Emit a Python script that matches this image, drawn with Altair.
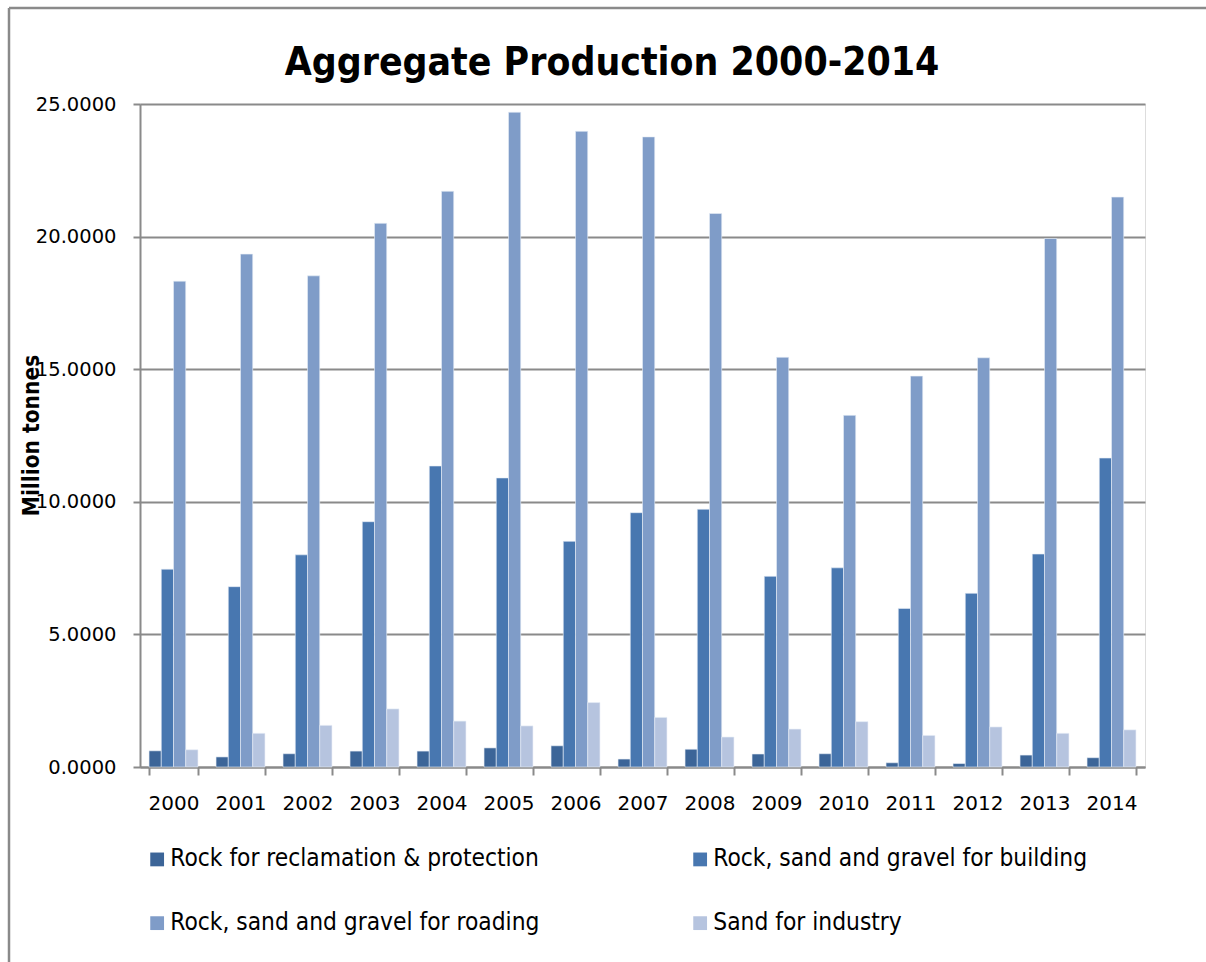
import altair as alt
import pandas as pd

years = [str(y) for y in range(2000, 2015)]
series = [
    "Rock for reclamation & protection",
    "Rock, sand and gravel for building",
    "Rock, sand and gravel for roading",
    "Sand for industry",
]
reclamation = [0.61, 0.38, 0.50, 0.60, 0.60, 0.72, 0.80, 0.30, 0.67, 0.49, 0.50, 0.16, 0.13, 0.45, 0.35]
building = [7.46, 6.80, 8.00, 9.25, 11.35, 10.90, 8.51, 9.59, 9.72, 7.19, 7.51, 5.98, 6.55, 8.03, 11.65]
roading = [18.32, 19.34, 18.52, 20.50, 21.71, 24.69, 23.97, 23.76, 20.87, 15.45, 13.26, 14.74, 15.43, 19.93, 21.49]
industry = [0.65, 1.27, 1.57, 2.19, 1.73, 1.55, 2.43, 1.87, 1.13, 1.43, 1.71, 1.19, 1.51, 1.27, 1.40]
colors = ["#3C6598", "#4877B0", "#7F9CC8", "#B6C4DF"]
chart_title = "Aggregate Production 2000-2014"

rows = []
for name, vals in zip(series, [reclamation, building, roading, industry]):
    for y, v in zip(years, vals):
        rows.append({"Year": y, "Series": name, "Value": v})
df = pd.DataFrame(rows)

NARROW = "Liberation Sans Narrow, DejaVu Sans Condensed, sans-serif"
NUM = "DejaVu Sans, Verdana, sans-serif"
GRAY = "#8A8A8A"

bars = alt.Chart(df).mark_bar(stroke="#E8EEF7", strokeWidth=0.6).encode(
    x=alt.X(
        "Year:N",
        sort=years,
        scale=alt.Scale(paddingInner=0.27, paddingOuter=0.135),
        axis=alt.Axis(
            title=None, labelAngle=0, labelFont=NUM, labelFontSize=20, labelColor="#000000",
            domainColor=GRAY, domainWidth=2, tickColor=GRAY, tickWidth=2, tickSize=8,
            tickBand="extent", labelPadding=18, grid=False,
        ),
    ),
    xOffset=alt.XOffset("Series:N", sort=series),
    y=alt.Y(
        "Value:Q",
        scale=alt.Scale(domain=[0, 25], nice=False),
        axis=alt.Axis(
            title="Million tonnes", values=[0, 5, 10, 15, 20, 25], format=".4f",
            labelFont=NUM, labelFontSize=19.5, labelColor="#000000", labelPadding=17,
            domainColor=GRAY, domainWidth=2, tickColor=GRAY, tickWidth=2, tickSize=7,
            gridColor=GRAY, gridWidth=2,
            titleFont=NARROW, titleFontSize=22.5, titleFontWeight="bold", titleColor="#000000",
            titleAngle=270, titleX=-109, titleY=331, titleAlign="center", titleBaseline="middle",
        ),
    ),
    color=alt.Color(
        "Series:N",
        sort=series,
        scale=alt.Scale(domain=series, range=colors),
        legend=alt.Legend(
            title=None, orient="none", legendX=5, legendY=743, columns=2, direction="horizontal",
            padding=0, symbolType="square", symbolSize=190, symbolStrokeWidth=0, symbolOpacity=1,
            labelFont=NARROW, labelFontSize=24.3, labelColor="#000000", labelLimit=600,
            labelOffset=1, columnPadding=148, rowPadding=39,
        ),
    ),
)

frame = pd.DataFrame({"k": [0]})
border_v = alt.Chart(frame).mark_rule(color=GRAY, strokeWidth=2.5).encode(
    x=alt.value(-131), y=alt.value(-96), y2=alt.value(860)
)
border_h = alt.Chart(frame).mark_rule(color=GRAY, strokeWidth=2.5).encode(
    x=alt.value(-131), x2=alt.value(1070), y=alt.value(-96)
)
title_text = alt.Chart(frame).mark_text(
    font=NARROW, fontSize=38.8, fontWeight="bold", color="#000000",
    align="center", baseline="alphabetic",
).encode(x=alt.value(472), y=alt.value(-29), text=alt.value(chart_title))

chart = alt.layer(border_v, border_h, title_text, bars).properties(
    width=1005,
    height=663,
    autosize=alt.AutoSizeParams(type="none"),
    padding={"left": 140, "top": 104, "right": 61, "bottom": 195},
).configure_view(stroke=None).configure(background="#FFFFFF")

chart.save("out.html", embed_options={"renderer": "svg", "actions": False})
